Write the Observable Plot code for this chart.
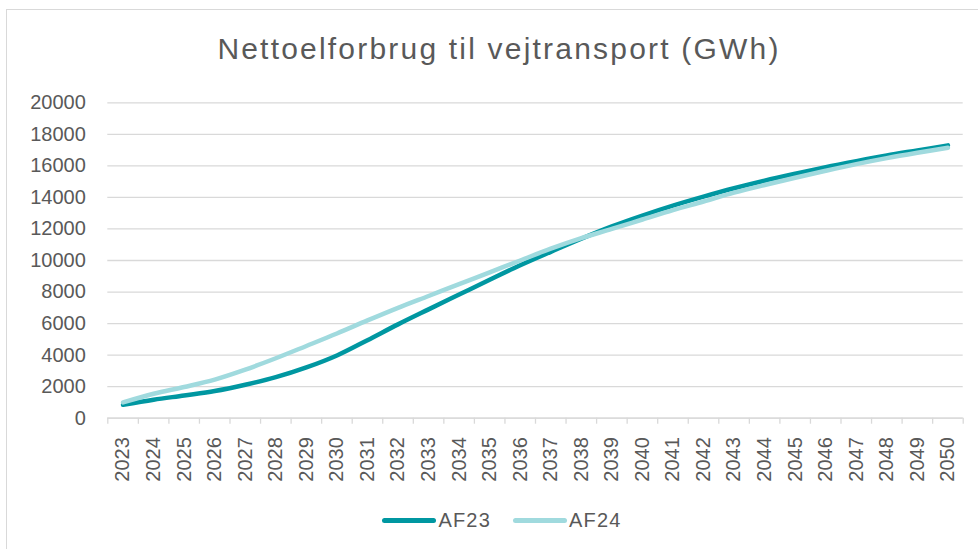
<!DOCTYPE html>
<html>
<head>
<meta charset="utf-8">
<script src="https://cdn.jsdelivr.net/npm/d3@7"></script>
<script src="https://cdn.jsdelivr.net/npm/@observablehq/plot@0.6"></script>
<style>
  html, body { margin: 0; padding: 0; background: #fff; overflow: hidden; }
  #wrap { position: relative; width: 978px; height: 549px; font-family: "Liberation Sans", Arial, sans-serif; color: #595959; }
  #frame { position: absolute; left: 6px; top: 9px; width: 990px; height: 560px; border: 1.5px solid #d9d9d9; box-sizing: border-box; }
  #title { position: absolute; left: 10px; width: 978px; top: 31px; text-align: center; font-size: 30px; line-height: 36px; letter-spacing: 2.2px; color: #595959; }
  #chart { position: absolute; left: 0; top: 0; }
  #legend { position: absolute; left: 13px; width: 978px; top: 509px; display: flex; justify-content: center; align-items: center; font-size: 20px; letter-spacing: 1.2px; }
  .item { display: flex; align-items: center; margin: 0 11px; }
  .swatch { width: 54px; height: 5px; border-radius: 3px; margin-right: 2px; }
</style>
</head>
<body>
<div id="wrap">
  <div id="frame"></div>
  <div id="chart"></div>
  <div id="title">Nettoelforbrug til vejtransport (GWh)</div>
  <div id="legend"></div>
</div>
<script>
const years = [2023,2024,2025,2026,2027,2028,2029,2030,2031,2032,2033,2034,2035,2036,2037,2038,2039,2040,2041,2042,2043,2044,2045,2046,2047,2048,2049,2050];
const af23 = [850,1170,1440,1720,2120,2600,3220,3980,4950,5950,6900,7840,8780,9700,10550,11380,12160,12850,13480,14050,14580,15060,15500,15920,16300,16660,16980,17300];
const af24 = [1000,1550,1980,2450,3080,3800,4580,5370,6200,7000,7750,8500,9250,10000,10750,11420,12000,12600,13200,13740,14300,14790,15250,15690,16110,16490,16830,17150];
const seriesNames = ["AF23", "AF24"];
const seriesColors = ["#0097a1", "#a0dade"];
const yTicks = [0,2000,4000,6000,8000,10000,12000,14000,16000,18000,20000];

const data = [
  ...years.map((y, i) => ({year: y, value: af23[i], series: "AF23"})),
  ...years.map((y, i) => ({year: y, value: af24[i], series: "AF24"}))
];
const boundaries = [...years.map(y => y - 0.5), years[years.length - 1] + 0.5];

const plot = Plot.plot({
  width: 978,
  height: 549,
  marginLeft: 107.3,
  marginRight: 15.3,
  marginTop: 102.3,
  marginBottom: 131.3,
  style: {fontFamily: "Liberation Sans, Arial, sans-serif", color: "#595959", background: "transparent"},
  x: {type: "linear", domain: [years[0] - 0.5, years[years.length - 1] + 0.5]},
  y: {domain: [0, 20000]},
  color: {domain: seriesNames, range: seriesColors},
  marks: [
    Plot.gridY(yTicks, {stroke: "#d9d9d9", strokeOpacity: 1, strokeWidth: 1.3}),
    Plot.axisY(yTicks, {tickSize: 0, tickPadding: 22, fontSize: 20, tickFormat: d => String(d), label: null, style: {letterSpacing: "1.1px"}}),
    Plot.axisX(boundaries, {tickSize: 6, tickFormat: () => "", stroke: "#d9d9d9", strokeWidth: 1.3, strokeOpacity: 1, label: null}),
    Plot.axisX(years, {tickSize: 0, tickRotate: -90, tickPadding: 19, fontSize: 20, tickFormat: d => String(d), label: null, style: {letterSpacing: "1.1px"}}),
    Plot.ruleY([0], {stroke: "#d9d9d9", strokeWidth: 1.3}),
    Plot.line(data, {x: "year", y: "value", z: "series", stroke: "series", strokeWidth: 4.5, curve: "catmull-rom", strokeLinecap: "round", strokeLinejoin: "round"})
  ]
});
document.getElementById("chart").appendChild(plot);

const legend = document.getElementById("legend");
seriesNames.forEach((name, i) => {
  const item = document.createElement("div");
  item.className = "item";
  const sw = document.createElement("div");
  sw.className = "swatch";
  sw.style.background = seriesColors[i];
  const t = document.createElement("span");
  t.textContent = name;
  item.appendChild(sw);
  item.appendChild(t);
  legend.appendChild(item);
});
</script>
</body>
</html>
